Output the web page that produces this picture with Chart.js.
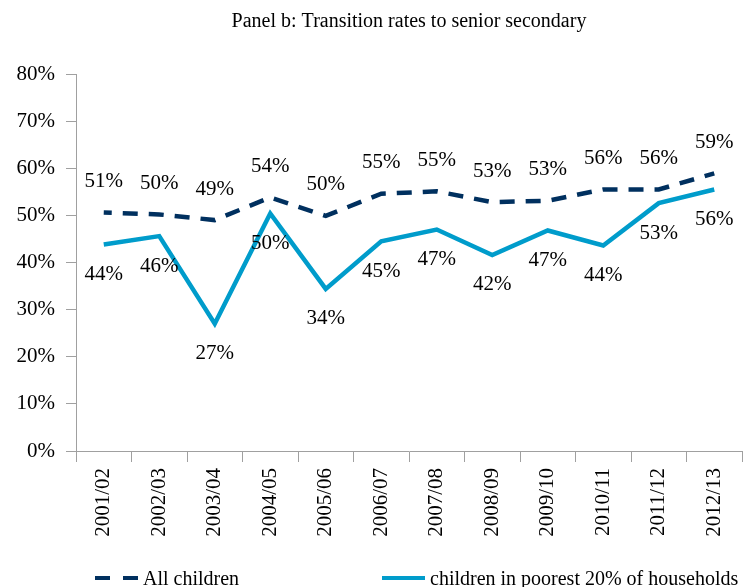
<!DOCTYPE html>
<html>
<head>
<meta charset="utf-8">
<script src="https://cdn.jsdelivr.net/npm/chart.js@4.4.1/dist/chart.umd.min.js"></script>
<style>
  html, body { margin: 0; padding: 0; background: #fff; }
  #wrap { position: relative; width: 753px; height: 587px; }
  #legend { position: absolute; left: 0; top: 567px; width: 753px; height: 22px; font: 20px "Liberation Serif", serif; color: #000; }
  #legend .item { position: absolute; top: 0; height: 22px; display: flex; align-items: center; white-space: nowrap; }
  #legend .swatch { width: 43px; height: 4.5px; margin-right: 5px; }
</style>
</head>
<body>
<div id="wrap">
  <canvas id="chart"></canvas>
  <div id="legend"></div>
</div>
<script>
// data
const years = ['2001/02', '2002/03', '2003/04', '2004/05', '2005/06', '2006/07',
  '2007/08', '2008/09', '2009/10', '2010/11', '2011/12', '2012/13']
const allChildren = [50.6, 50.2, 49.0, 53.8, 49.9, 54.6, 55.1, 52.8, 53.1, 55.5, 55.5, 58.9]
const poorest = [43.8, 45.6, 27.0, 50.4, 34.4, 44.5, 47.0, 41.6, 46.8, 43.6, 52.6, 55.5]
const seriesNames = ['All children', 'children in poorest 20% of households']
const yMin = 0
const yMax = 80
const yStep = 10
const titleText = 'Panel b: Transition rates to senior secondary'

const navy = '#00305f'
const blue = '#009ccb'
const axisGrey = '#a0a0a0'
const serif = '"Liberation Serif", "Times New Roman", serif'

// title centred over the plot area, not the whole canvas
const panelTitle = {
  id: 'panelTitle',
  afterDraw(chart) {
    const { ctx, chartArea } = chart
    ctx.save()
    ctx.font = '20px ' + serif
    ctx.fillStyle = '#000'
    ctx.textAlign = 'center'
    ctx.textBaseline = 'middle'
    ctx.fillText(titleText, (chartArea.left + chartArea.right) / 2, 22)
    ctx.restore()
  }
}

// percentage labels above / below each point
const valueLabels = {
  id: 'valueLabels',
  afterDatasetsDraw(chart) {
    const ctx = chart.ctx
    ctx.save()
    ctx.font = '21px ' + serif
    ctx.fillStyle = '#000'
    ctx.textAlign = 'center'
    ctx.textBaseline = 'middle'
    chart.data.datasets.forEach((ds, i) => {
      chart.getDatasetMeta(i).data.forEach((pt, j) => {
        ctx.fillText(Math.round(ds.data[j]) + '%', pt.x, pt.y + ds.labelShift)
      })
    })
    ctx.restore()
  }
}

// html legend built from the datasets
const htmlLegend = {
  id: 'htmlLegend',
  afterUpdate(chart) {
    const box = document.getElementById('legend')
    box.innerHTML = ''
    const lefts = [95, 382]
    chart.data.datasets.forEach((ds, i) => {
      const item = document.createElement('div')
      item.className = 'item'
      item.style.left = lefts[i] + 'px'
      const sw = document.createElement('span')
      sw.className = 'swatch'
      if (ds.borderDash && ds.borderDash.length) {
        sw.style.background = 'repeating-linear-gradient(to right, ' + ds.borderColor + ' 0 15px, transparent 15px 28px)'
      } else {
        sw.style.background = ds.borderColor
      }
      const txt = document.createElement('span')
      txt.textContent = ds.label
      item.appendChild(sw)
      item.appendChild(txt)
      box.appendChild(item)
    })
  }
}

new Chart(document.getElementById('chart'), {
  type: 'line',
  data: {
    labels: years,
    datasets: [
      {
        label: seriesNames[0],
        data: allChildren,
        borderColor: navy,
        borderWidth: 4.5,
        borderDash: [15, 11],
        borderDashOffset: 7,
        pointRadius: 0,
        tension: 0,
        labelShift: -31
      },
      {
        label: seriesNames[1],
        data: poorest,
        borderColor: blue,
        borderWidth: 4.5,
        pointRadius: 0,
        tension: 0,
        labelShift: 30
      }
    ]
  },
  options: {
    responsive: true,
    maintainAspectRatio: false,
    animation: false,
    layout: {
      padding: { left: 16, right: 11, top: 74, bottom: 0 }
    },
    scales: {
      x: {
        offset: true,
        afterFit: (scale) => { scale.height = 136 },
        grid: {
          offset: true,
          drawOnChartArea: false,
          tickLength: 11,
          color: axisGrey
        },
        border: { color: axisGrey, width: 1 },
        ticks: {
          minRotation: 90,
          maxRotation: 90,
          padding: 6,
          color: '#000',
          font: { family: serif, size: 21 }
        }
      },
      y: {
        min: yMin,
        max: yMax,
        afterFit: (scale) => { scale.width = 60 },
        grid: {
          drawOnChartArea: false,
          tickLength: 10,
          color: axisGrey
        },
        border: { color: axisGrey, width: 1 },
        ticks: {
          stepSize: yStep,
          padding: 11,
          color: '#000',
          font: { family: serif, size: 21 },
          callback: (v) => v + '%'
        }
      }
    },
    plugins: {
      legend: { display: false },
      tooltip: { enabled: false }
    }
  },
  plugins: [panelTitle, valueLabels, htmlLegend]
})
</script>
</body>
</html>
